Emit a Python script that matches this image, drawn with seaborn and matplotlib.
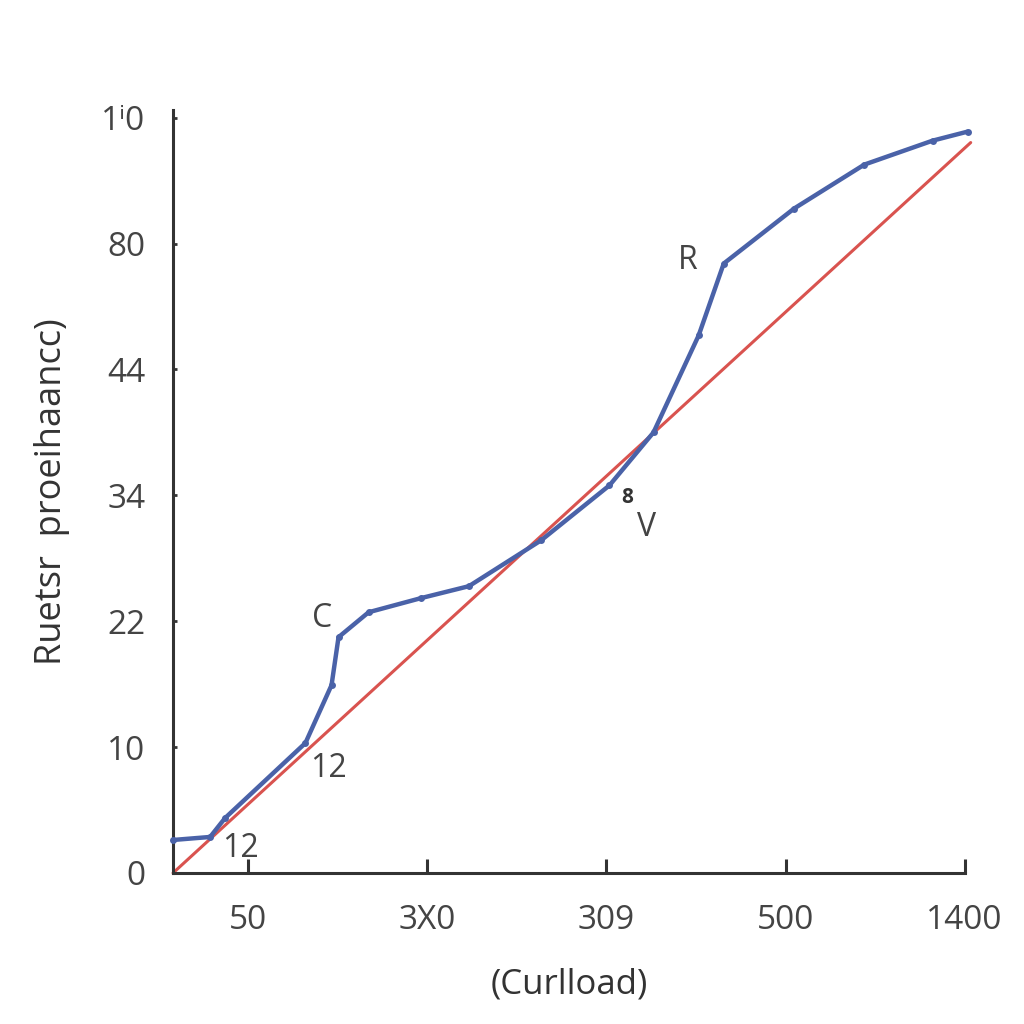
import matplotlib
matplotlib.use("Agg")
import matplotlib.pyplot as plt
import seaborn as sns
import pandas as pd

sns.set_theme(style="white")
plt.rcParams['font.family'] = ['Open Sans', 'DejaVu Sans']

# data (axis units: tick positions 0..4 on x, 0..6 on y)
blue_x = [-0.42, -0.213, -0.129, 0.319, 0.465, 0.504, 0.672, 0.964, 1.232, 1.636,
          2.017, 2.263, 2.515, 2.655, 3.048, 3.440, 3.821, 4.017]
blue_y = [0.262, 0.286, 0.437, 1.032, 1.492, 1.873, 2.071, 2.183, 2.278, 2.643,
          3.079, 3.500, 4.270, 4.841, 5.278, 5.627, 5.817, 5.889]
red_x = [-0.42, 4.034]
red_y = [0.0, 5.802]

x_tick_labels = ["50", "3X0", "309", "500", "1400"]
y_tick_labels = ["0", "10", "22", "34", "44", "80", "1\u20710"]

blue_df = pd.DataFrame({"x": blue_x, "y": blue_y})
red_df = pd.DataFrame({"x": red_x, "y": red_y})

fig = plt.figure(figsize=(10.24, 10.24), dpi=100)
ax = fig.add_axes([0.169, 0.1475, 0.773, 0.745])

sns.lineplot(data=red_df, x="x", y="y", ax=ax, color="#d9534f", linewidth=2.2,
             sort=False, clip_on=False, zorder=2)
sns.lineplot(data=blue_df, x="x", y="y", ax=ax, color="#4a62a8", linewidth=3.2,
             sort=False, marker="o", markersize=5, markeredgewidth=0,
             clip_on=False, zorder=3)

ax.set_xlim(-0.42, 4.0)
ax.set_ylim(0, 6.06)
ax.set_xticks(range(5))
ax.set_xticklabels(x_tick_labels)
ax.set_yticks(range(7))
ax.set_yticklabels(y_tick_labels)

for s in ["top", "right"]:
    ax.spines[s].set_visible(False)
for s in ["left", "bottom"]:
    ax.spines[s].set_color("#333333")
    ax.spines[s].set_linewidth(2.2)

ax.tick_params(axis="x", bottom=True, direction="in", length=10, width=2.2,
               color="#333333", labelsize=24, labelcolor="#444444", pad=22)
ax.tick_params(axis="y", left=True, direction="in", length=3, width=2,
               color="#333333", labelsize=24, labelcolor="#444444", pad=20)
ax.set_xlabel("(Curlload)", fontsize=25, color="#333333", labelpad=22)
ax.set_ylabel("Ruetsr  proeihaancc)", fontsize=26, color="#333333", labelpad=22)
ax.grid(False)

# annotations
ann = dict(color="#444444", fontsize=23, ha="center", va="center")
ax.text(2.454, 4.865, "R", **ann)
ax.text(0.415, 2.024, "C", **ann)
ax.text(0.448, 0.833, "12", **ann)
ax.text(-0.045, 0.198, "12", **ann)
ax.text(2.224, 2.746, "V", **ann)
ax.text(2.118, 2.984, "8", color="#333333", fontsize=15, fontweight="bold",
        ha="center", va="center")

fig.savefig("out.png", dpi=100, facecolor="white")
